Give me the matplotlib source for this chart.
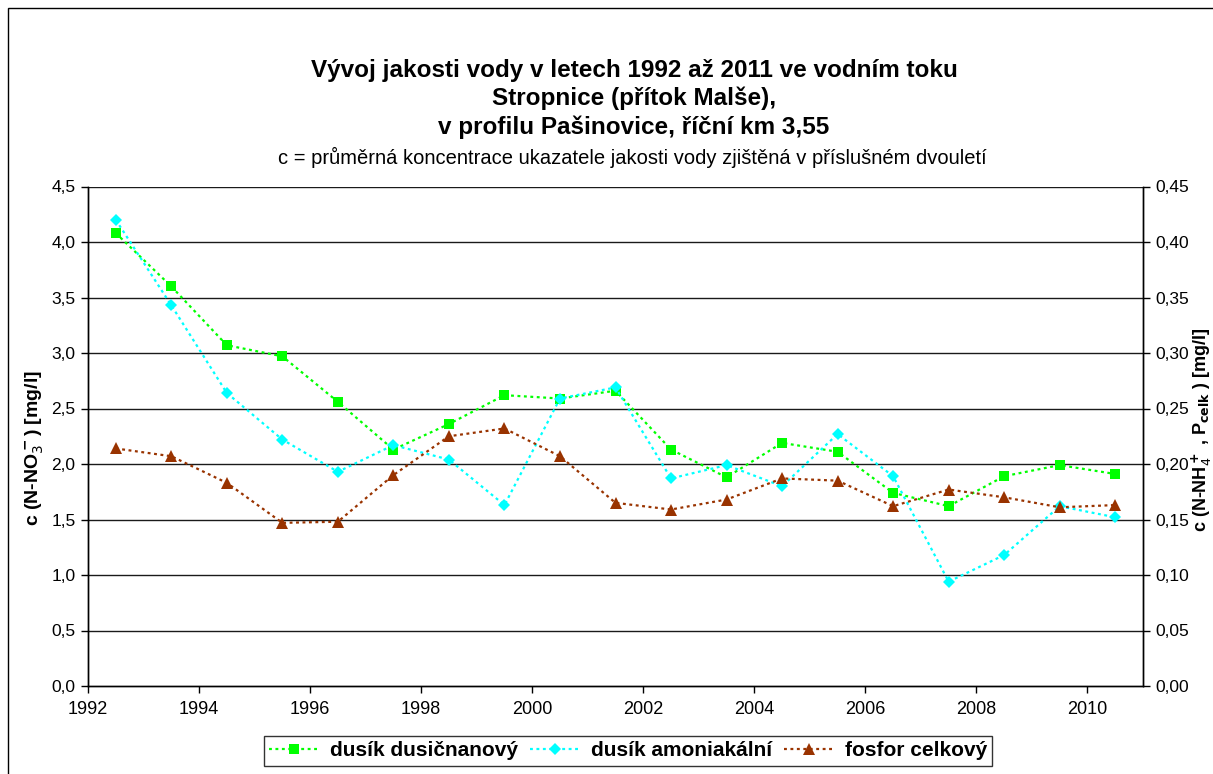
import matplotlib
matplotlib.use("Agg")
import matplotlib.pyplot as plt
from matplotlib.patches import Rectangle

plt.rcParams['font.family'] = ['Liberation Sans', 'DejaVu Sans']

years = [1992.5, 1993.5, 1994.5, 1995.5, 1996.5, 1997.5, 1998.5, 1999.5, 2000.5, 2001.5,
         2002.5, 2003.5, 2004.5, 2005.5, 2006.5, 2007.5, 2008.5, 2009.5, 2010.5]

# dusík dusičnanový, N-NO3 [mg/l] (left axis)
nitrate = [4.08, 3.60, 3.07, 2.97, 2.56, 2.13, 2.36, 2.62, 2.59, 2.66,
           2.13, 1.88, 2.19, 2.11, 1.74, 1.62, 1.89, 1.99, 1.91]
# dusík amoniakální, N-NH4 [mg/l] (right axis)
ammonium = [0.420, 0.343, 0.264, 0.222, 0.193, 0.217, 0.204, 0.163, 0.259, 0.269,
            0.187, 0.199, 0.180, 0.227, 0.189, 0.094, 0.118, 0.162, 0.152]
# fosfor celkový, P celk [mg/l] (right axis)
phosphorus = [0.214, 0.207, 0.183, 0.147, 0.148, 0.190, 0.225, 0.232, 0.207, 0.165,
              0.159, 0.168, 0.187, 0.185, 0.162, 0.177, 0.170, 0.161, 0.163]

x_ticks = [1992, 1994, 1996, 1998, 2000, 2002, 2004, 2006, 2008, 2010]
left_ticks = [0.0, 0.5, 1.0, 1.5, 2.0, 2.5, 3.0, 3.5, 4.0, 4.5]
right_ticks = [0.00, 0.05, 0.10, 0.15, 0.20, 0.25, 0.30, 0.35, 0.40, 0.45]

labels = ['dusík dusičnanový', 'dusík amoniakální', 'fosfor celkový']
colors = ['#00FF00', '#00FFFF', '#993300']

W, H = 1213, 774
fig = plt.figure(figsize=(W / 100, H / 100), dpi=100)
fig.patch.set_facecolor('white')

# outer frame of the chart area (runs past the right and bottom edges)
fig.patches.append(Rectangle((8 / W, -0.05), 1.1, 1.05 - 8 / H,
                             transform=fig.transFigure, fill=False,
                             edgecolor='black', linewidth=1.0))

x0, x1, ytop, ybot = 88, 1143, 186.5, 686
ax = fig.add_axes([x0 / W, (H - ybot) / H, (x1 - x0) / W, (ybot - ytop) / H])
ax2 = ax.twinx()

ax.set_xlim(1992, 2011)
ax.set_ylim(0, 4.5)
ax2.set_ylim(0, 0.45)

ax.set_yticks(left_ticks)
ax.set_yticklabels([f"{v:.1f}".replace('.', ',') for v in left_ticks])
ax2.set_yticks(right_ticks)
ax2.set_yticklabels([f"{v:.2f}".replace('.', ',') for v in right_ticks])
ax.set_xticks(x_ticks)
ax.set_xticklabels([str(v) for v in x_ticks])

for v in left_ticks[1:]:
    ax.axhline(v, color='#1a1a1a', linewidth=1.0, zorder=0)

for a in (ax, ax2):
    a.spines['top'].set_visible(False)
    for s in ('left', 'right', 'bottom'):
        a.spines[s].set_linewidth(1.0)
        a.spines[s].set_color('black')
    a.tick_params(direction='out', length=5, width=1, labelsize=12.5, colors='black')
ax.tick_params(axis='x', pad=6, labelsize=13)
ax.tick_params(axis='y', pad=4)
ax2.tick_params(axis='y', pad=4)

dot = (0, (1.3, 1.6))
l1, = ax.plot(years, nitrate, color=colors[0], linestyle=dot, linewidth=1.6,
              marker='s', markersize=7.5, markeredgewidth=0, label=labels[0], zorder=3)
l2, = ax2.plot(years, ammonium, color=colors[1], linestyle=dot, linewidth=1.6,
               marker='D', markersize=6.5, markeredgewidth=0, label=labels[1], zorder=3)
l3, = ax2.plot(years, phosphorus, color=colors[2], linestyle=dot, linewidth=1.6,
               marker='^', markersize=8.5, markeredgewidth=0, label=labels[2], zorder=3)

# axis titles
fig.text(35 / W, 1 - 448 / H, r'c (N-NO$_3^{\bf -}$) [mg/l]', rotation=90,
         ha='center', va='center', fontsize=14, fontweight='bold')
fig.text(1201.5 / W, 1 - 430 / H, r'c (N-NH$_4^{\bf +}$ , P$_{\bf celk}$ ) [mg/l]',
         rotation=90, ha='center', va='center', fontsize=13, fontweight='bold')

title_lines = ['Vývoj jakosti vody v letech 1992 až 2011 ve vodním toku',
               'Stropnice (přítok Malše),',
               'v profilu Pašinovice, říční km 3,55']
for i, line in enumerate(title_lines):
    fig.text(634 / W, 1 - (70 + i * 28.5) / H, line, ha='center', va='center',
             fontsize=17.5, fontweight='bold')
fig.text(632 / W, 1 - 157 / H,
         'c = průměrná koncentrace ukazatele jakosti vody zjištěná v příslušném dvouletí',
         ha='center', va='center', fontsize=14.5)

leg = fig.legend(handles=[l1, l2, l3], labels=labels, loc='center',
                 bbox_to_anchor=(628 / W, 1 - 751 / H), ncol=3, frameon=True,
                 fancybox=False, edgecolor='black',
                 prop={'weight': 'bold', 'size': 15}, handlelength=2.4,
                 columnspacing=0.6, handletextpad=0.5, borderpad=0.25)
leg.get_frame().set_linewidth(1.0)

fig.savefig('out.png', dpi=100)
